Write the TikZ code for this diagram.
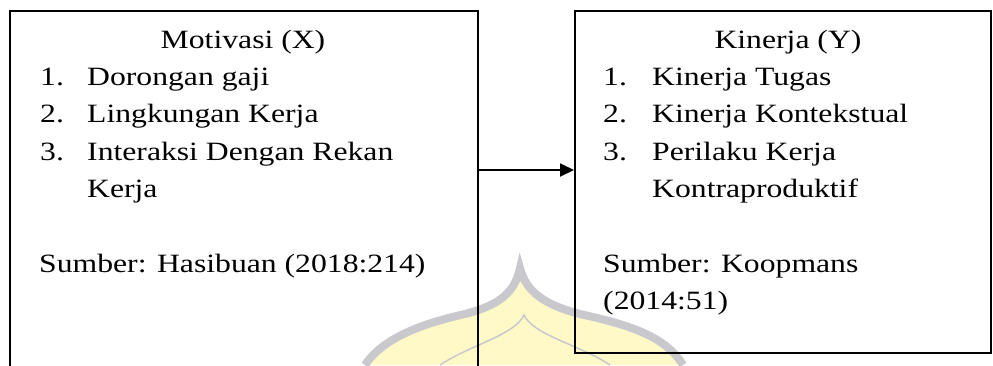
\documentclass[tikz,border=0pt]{standalone}
\usepackage{fontspec}
\setmainfont[FakeStretch=1.2]{Liberation Serif}
\usetikzlibrary{arrows.meta}
\definecolor{wmyellow}{RGB}{255,249,200}
\definecolor{wmgray}{RGB}{200,200,205}
\begin{document}
\begin{tikzpicture}[x=1pt,y=-1pt,
  box/.style={draw=black, line width=1.8pt, inner sep=0pt, anchor=north west},
  txt/.style={anchor=base west, inner sep=0pt, font=\fontsize{26.4}{30}\selectfont},
  ttl/.style={anchor=base, inner sep=0pt, font=\fontsize{26.4}{30}\selectfont},
  arr/.style={line width=1.8pt, -{Triangle[length=14pt,width=13pt]}}]
\useasboundingbox (0,0) rectangle (993,365);
\clip (0,0) rectangle (993,365);
\fill[white] (0,0) rectangle (993,365);
% watermark
\fill[wmyellow] (365,365) .. controls (385,335) and (430,322) .. (465,314)
  .. controls (500,305) and (515,292) .. (520,268)
  .. controls (526,292) and (545,305) .. (580,314)
  .. controls (625,324) and (665,335) .. (683,365) -- cycle;
\draw[wmgray, line width=8pt] (365,365) .. controls (385,335) and (430,322) .. (465,314)
  .. controls (500,305) and (515,292) .. (520,268)
  .. controls (526,292) and (545,305) .. (580,314)
  .. controls (625,324) and (665,335) .. (683,365);
\draw[wmgray, line width=1.5pt] (440,365) .. controls (470,345) and (515,335) .. (524,315)
  .. controls (533,335) and (580,345) .. (610,365);
% boxes
\node[box, minimum width=468pt, minimum height=380pt] (L) at (9,10) {};
\node[box, minimum width=416pt, minimum height=342pt] (R) at (574,10) {};
\coordinate (ya) at (0,170);
\draw[arr] (L.east |- ya) -- (R.west |- ya);
% left text
\node[ttl] (lt) at (243,48.3) {Motivasi (X)};
\node[txt] (l1n) at (40,85.6) {1.};
\node[txt] (l1) at (87,85.6) {Dorongan gaji};
\node[txt] (l2n) at (40,122.9) {2.};
\node[txt] (l2) at (87,122.9) {Lingkungan Kerja};
\node[txt] (l3n) at (40,160.2) {3.};
\node[txt] (l3) at (87,160.2) {Interaksi Dengan Rekan};
\node[txt] (l3b) at (87,197.5) {Kerja};
\node[txt] (ls) at (39,272.1) {Sumber: Hasibuan (2018:214)};
% right text
\node[ttl] (rt) at (788,48.3) {Kinerja (Y)};
\node[txt] (r1n) at (603,85.6) {1.};
\node[txt] (r1) at (652,85.6) {Kinerja Tugas};
\node[txt] (r2n) at (603,122.9) {2.};
\node[txt] (r2) at (652,122.9) {Kinerja Kontekstual};
\node[txt] (r3n) at (603,160.2) {3.};
\node[txt] (r3) at (652,160.2) {Perilaku Kerja};
\node[txt] (r3b) at (652,197.5) {Kontraproduktif};
\node[txt] (rs) at (603,272.1) {Sumber: Koopmans};
\node[txt] (rs2) at (603,309.4) {(2014:51)};
\end{tikzpicture}
\end{document}
